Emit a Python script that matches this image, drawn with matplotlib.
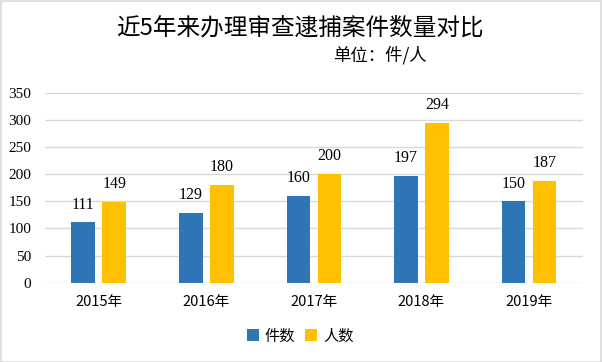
import matplotlib
matplotlib.use("Agg")
import matplotlib.pyplot as plt
import numpy as np
from matplotlib.patches import Rectangle

plt.rcParams['font.family'] = ['Noto Sans CJK SC', 'DejaVu Sans']

years = ['2015年', '2016年', '2017年', '2018年', '2019年']
cases = [111, 129, 160, 197, 150]
people = [149, 180, 200, 294, 187]
yticks = [0, 50, 100, 150, 200, 250, 300, 350]

title = '近5年来办理审查逮捕案件数量对比'
unit = '单位：件/人'
labels = ['件数', '人数']
c_blue = '#2E75B6'
c_gold = '#FFC000'

fig = plt.figure(figsize=(6.02, 3.62), dpi=100)
ax = fig.add_axes([45/602, 79.3/362, 537.7/602, 190/362])

x = np.arange(len(years))
w = 0.22
off = 0.144
b1 = ax.bar(x - off, cases, w, color=c_blue, label=labels[0], zorder=3)
b2 = ax.bar(x + off, people, w, color=c_gold, label=labels[1], zorder=3)

for bars, vals in ((b1, cases), (b2, people)):
    for r, v in zip(bars, vals):
        ax.annotate(str(v), (r.get_x() + r.get_width()/2, v), xytext=(0, 7),
                    textcoords='offset points', ha='center', va='bottom',
                    fontsize=11.5, family=['Liberation Serif'], color='#000000')

ax.set_xlim(-0.5, len(years) - 0.5)
ax.set_ylim(0, 350)
ax.set_yticks(yticks)
ax.set_yticklabels([str(t) for t in yticks], family=['Liberation Serif'], fontsize=11)
ax.set_xticks(x)
ax.set_xticklabels(years, fontsize=10.5)
ax.tick_params(axis='both', length=0, colors='#000000')
ax.tick_params(axis='y', pad=10)
ax.tick_params(axis='x', pad=9)
ax.yaxis.grid(True, color='#D9D9D9', linewidth=1, zorder=0)
for s in ax.spines.values():
    s.set_visible(False)

fig.text(300/602, 1 - 28/362, title, ha='center', va='center', fontsize=17,
         fontweight='medium', color='#000000')
fig.text(333/602, 1 - 55/362, unit, ha='left', va='center', fontsize=12.5, color='#000000')

fig.legend(handles=[b1, b2], labels=labels, loc='center', bbox_to_anchor=(300/602, 1 - 336/362),
           ncol=2, frameon=False, fontsize=11, handlelength=0.8, handleheight=0.8,
           handletextpad=0.4, columnspacing=0.6)

fig.patches.append(Rectangle((0.5/602, 0.5/362), 1 - 1.5/602, 1 - 1.5/362, transform=fig.transFigure,
                             fill=False, edgecolor='#D9D9D9', linewidth=1.2))

fig.savefig('out.png', dpi=100, facecolor='white')
